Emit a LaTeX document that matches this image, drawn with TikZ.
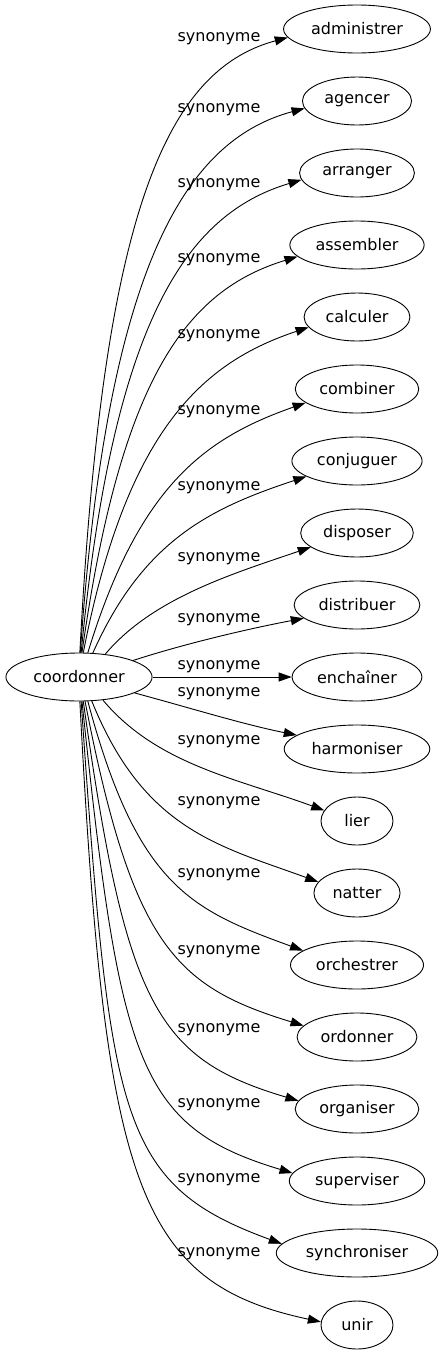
\documentclass[tikz,border=0pt]{standalone}
\usepackage{fontspec}
\setmainfont{DejaVu Sans}
\usetikzlibrary{shapes.geometric,arrows.meta}
\tikzset{
  word/.style={ellipse, draw, line width=0.9pt, inner xsep=6pt, inner ysep=0pt,
    minimum height=48pt, minimum width=72pt, font=\fontsize{16}{19}\selectfont},
  lab/.style={inner sep=0pt, font=\fontsize{16}{19}\selectfont},
  link/.style={line width=0.9pt, -{Triangle[length=13pt,width=9pt]}},
}
\begin{document}
\begin{tikzpicture}[x=1pt,y=1pt]
\fill[white] (0,0) rectangle (443,-1355);
\useasboundingbox (0,0) rectangle (443,-1355);
\node[word] (c) at (79,-677) {coordonner};
\node[word] (t1) at (357,-29) {administrer};
\node[word] (t2) at (357,-101) {agencer};
\node[word] (t3) at (357,-173) {arranger};
\node[word] (t4) at (357,-245) {assembler};
\node[word] (t5) at (357,-317) {calculer};
\node[word] (t6) at (357,-389) {combiner};
\node[word] (t7) at (357,-461) {conjuguer};
\node[word] (t8) at (357,-533) {disposer};
\node[word] (t9) at (357,-605) {distribuer};
\node[word] (t10) at (357,-677) {enchaîner};
\node[word] (t11) at (357,-749) {harmoniser};
\node[word] (t12) at (357,-821) {lier};
\node[word] (t13) at (357,-893) {natter};
\node[word] (t14) at (357,-965) {orchestrer};
\node[word] (t15) at (357,-1037) {ordonner};
\node[word] (t16) at (357,-1109) {organiser};
\node[word] (t17) at (357,-1181) {superviser};
\node[word] (t18) at (357,-1253) {synchroniser};
\node[word] (t19) at (357,-1325) {unir};
% labels
\node[lab] (l1) at (219,-38.3) {synonyme};
\node[lab] (l2) at (219,-110) {synonyme};
\node[lab] (l3) at (219,-185) {synonyme};
\node[lab] (l4) at (219,-259.3) {synonyme};
\node[lab] (l5) at (219,-336) {synonyme};
\node[lab] (l6) at (219,-411.7) {synonyme};
\node[lab] (l7) at (219,-487.3) {synonyme};
\node[lab] (l8) at (219,-558.3) {synonyme};
\node[lab] (l9) at (219,-619.3) {synonyme};
\node[lab] (l10) at (219,-666.7) {synonyme};
\node[lab] (l11) at (219,-694) {synonyme};
\node[lab] (l12) at (219,-741.7) {synonyme};
\node[lab] (l13) at (219,-802.7) {synonyme};
\node[lab] (l14) at (219,-874.3) {synonyme};
\node[lab] (l15) at (219,-951.7) {synonyme};
\node[lab] (l16) at (219,-1029.3) {synonyme};
\node[lab] (l17) at (219,-1105) {synonyme};
\node[lab] (l18) at (219,-1180) {synonyme};
\node[lab] (l19) at (219,-1253.3) {synonyme};
% edges top
\draw[link] (c.88) .. controls +(87:430) and +(195:130) .. (t1.187);
\draw[link] (c.87) .. controls +(86:382) and +(195:126) .. (t2.188);
\draw[link] (c.85) .. controls +(84.5:332) and +(196.6:121) .. (t3.187);
\draw[link] (c.83) .. controls +(82:278) and +(197:116) .. (t4.191);
\draw[link] (c.80) .. controls +(79:228) and +(198.4:111) .. (t5.192);
\draw[link] (c.70) .. controls +(73:176) and +(199.4:106) .. (t6.195);
\draw[link] (c.60) .. controls +(66:124) and +(198.3:100) .. (t7.197);
\draw[link] (c.41) .. controls +(50:74) and +(198.9:80) .. (t8.197);
\draw[link] (c.17) .. controls +(18:55) and +(190.7:55) .. (t9.194);
\draw[link] (c) -- (t10);
% edges bottom
\draw[link] (c.-16) .. controls +(-15:55) and +(168.7:55) .. (t11.167);
\draw[link] (c.-44) .. controls +(-50:84) and +(160:93) .. (t12.162);
\draw[link] (c.-62) .. controls +(-68:139) and +(160:106) .. (t13.164);
\draw[link] (c.-70) .. controls +(-75:192) and +(160:119) .. (t14.165);
\draw[link] (c.-76) .. controls +(-79:249) and +(163:134) .. (t15.168);
\draw[link] (c.-80) .. controls +(-82:307) and +(163.5:148) .. (t16.172);
\draw[link] (c.-83) .. controls +(-84:363) and +(163.3:162) .. (t17.173);
\draw[link] (c.-85) .. controls +(-86:417) and +(160:175) .. (t18.173);
\draw[link] (c.-88) .. controls +(-87:480) and +(168:190) .. (t19.175);
\end{tikzpicture}
\end{document}
